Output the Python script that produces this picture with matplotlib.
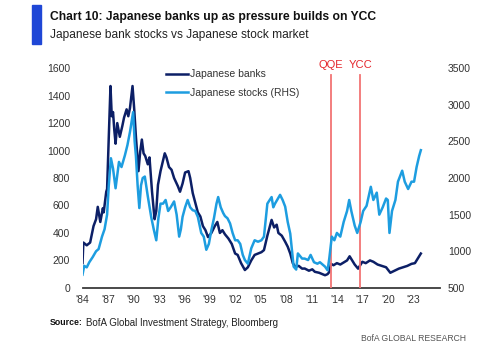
import matplotlib
matplotlib.use("Agg")
import matplotlib.pyplot as plt
from matplotlib import font_manager
from matplotlib.patches import Rectangle

# ---------- data ----------
bank_years = [1984.0, 1984.1, 1984.5, 1984.9, 1985.3, 1985.6, 1985.8, 1986.1, 1986.4, 1986.5,
              1986.8, 1986.9, 1987.1, 1987.3, 1987.45, 1987.6, 1987.75, 1987.9, 1988.1, 1988.4,
              1988.7, 1988.9, 1989.2, 1989.4, 1989.6, 1989.9, 1990.1, 1990.3, 1990.6, 1990.8,
              1991.0, 1991.2, 1991.4, 1991.7, 1991.9, 1992.2, 1992.5, 1992.7, 1992.9, 1993.2,
              1993.7, 1993.9, 1994.2, 1994.5, 1994.8, 1995.25, 1995.5, 1995.8, 1996.1, 1996.5,
              1996.7, 1997.0, 1997.3, 1997.6, 1997.9, 1998.2, 1998.5, 1998.8, 1999.2, 1999.6,
              1999.9, 2000.2, 2000.5, 2000.8, 2001.2, 2001.6, 2002.0, 2002.3, 2002.7, 2003.15,
              2003.5, 2003.9, 2004.3, 2004.7, 2005.1, 2005.4, 2005.8, 2006.3, 2006.6, 2006.9,
              2007.1, 2007.5, 2007.9, 2008.2, 2008.5, 2008.8, 2009.1, 2009.5, 2009.9, 2010.2,
              2010.7, 2011.1, 2011.4, 2011.9, 2012.6, 2012.9,
              2013.1, 2013.3, 2013.6, 2014.0, 2014.4, 2014.8, 2015.2, 2015.5, 2015.8, 2016.1,
              2016.5, 2017.0, 2017.4, 2017.9, 2018.3, 2018.8, 2019.3, 2019.8, 2020.3, 2020.8,
              2021.3, 2021.8, 2022.3, 2022.8, 2023.2, 2023.5, 2023.9]
bank_vals = [180, 330, 310, 330, 450, 500, 590, 480, 580, 550,
             700, 720, 1100, 1470, 1250, 1280, 1150, 1050, 1200, 1100,
             1180, 1240, 1300, 1250, 1310, 1470, 1300, 1100, 850, 990,
             1080, 980, 960, 900, 950, 700, 500, 560, 750, 850,
             980, 950, 880, 860, 800, 740, 700, 760, 840, 850,
             800, 690, 620, 550, 520, 450, 420, 370, 400, 450,
             480, 400, 420, 390, 360, 320, 250, 240, 180, 130,
             150, 200, 240, 250, 260, 275, 380, 495, 440, 460,
             400, 380, 336, 300, 250, 180, 153, 160, 140, 141,
             125, 135, 117, 110, 92, 100,
             115, 175, 165, 180, 170, 185, 200, 230, 200, 170,
             140, 190, 180, 200, 190, 170, 160, 150, 110, 125,
             140, 150, 160, 175, 180, 210, 250]

stock_years = [1984.0, 1984.2, 1984.5, 1984.8, 1985.2, 1985.6, 1985.9, 1986.3, 1986.6, 1986.9,
               1987.1, 1987.35, 1987.6, 1987.9, 1988.3, 1988.6, 1989.0, 1989.3, 1989.6, 1989.97,
               1990.15, 1990.3, 1990.5, 1990.7, 1990.9, 1991.1, 1991.35, 1991.7, 1992.1, 1992.4,
               1992.7, 1992.95, 1993.2, 1993.5, 1993.8, 1994.1, 1994.4, 1994.8, 1995.1, 1995.4,
               1995.6, 1995.8, 1996.1, 1996.4, 1996.7, 1997.0, 1997.3, 1997.6, 1998.0, 1998.3,
               1998.6, 1998.9, 1999.2, 1999.5, 1999.8, 2000.0, 2000.3, 2000.6, 2000.8, 2001.1,
               2001.4, 2001.7, 2002.0, 2002.3, 2002.6, 2002.9, 2003.15, 2003.5, 2003.9, 2004.3,
               2004.7, 2005.1, 2005.4, 2005.8, 2006.3, 2006.5, 2006.7, 2007.3, 2007.6, 2007.9,
               2008.2, 2008.5, 2008.9, 2009.2, 2009.4, 2009.9, 2010.2, 2010.6, 2010.9, 2011.3,
               2011.7, 2012.0, 2012.6, 2012.9, 2013.1, 2013.4, 2013.7,
               2014.0, 2014.4, 2014.8, 2015.2, 2015.45, 2015.7, 2016.1, 2016.4, 2016.8, 2017.1,
               2017.5, 2018.0, 2018.3, 2018.7, 2019.0, 2019.4, 2019.8, 2020.0, 2020.2, 2020.5,
               2020.9, 2021.2, 2021.7, 2022.0, 2022.4, 2022.8, 2023.1, 2023.4, 2023.7, 2023.9]
stock_vals = [680, 800, 780, 850, 920, 1000, 1030, 1200, 1300, 1500,
              1900, 2270, 2130, 1860, 2220, 2150, 2310, 2450, 2630, 2900,
              2500, 2300, 1900, 1590, 1900, 2000, 2020, 1750, 1470, 1300,
              1150, 1450, 1650, 1650, 1700, 1550, 1600, 1680, 1500, 1200,
              1300, 1470, 1600, 1700, 1600, 1560, 1550, 1470, 1250, 1200,
              1020, 1100, 1290, 1450, 1650, 1740, 1600, 1520, 1480, 1450,
              1380, 1250, 1150, 1150, 1100, 950, 880, 830, 1040, 1150,
              1130, 1150, 1200, 1650, 1740, 1600, 1650, 1770, 1700, 1610,
              1400, 1240, 790, 750, 970, 900, 900, 880, 950, 850,
              830, 850, 790, 740, 900, 1200, 1150,
              1250, 1200, 1400, 1550, 1700, 1550, 1350, 1250, 1400, 1550,
              1620, 1880, 1700, 1800, 1500, 1600, 1720, 1700, 1250, 1550,
              1700, 1950, 2100, 1950, 1850, 1950, 1950, 2150, 2300, 2380]

events = ["QQE", "YCC"]
event_years = [2013.25, 2016.75]

xtick_years = list(range(1984, 2024, 3))
xtick_labels = ["'" + str(y)[2:] for y in xtick_years]
left_ticks = [0, 200, 400, 600, 800, 1000, 1200, 1400, 1600]
right_ticks = [500, 1000, 1500, 2000, 2500, 3000, 3500]

# ---------- style ----------
avail = {f.name for f in font_manager.fontManager.ttflist}
narrow = "Liberation Sans Narrow" if "Liberation Sans Narrow" in avail else "Liberation Sans"
plt.rcParams["font.family"] = [narrow, "DejaVu Sans"]

NAVY = "#0c1f66"
LIGHT = "#1d9de0"
RED_LINE = "#f27474"
RED_TXT = "#e4262c"
GREY = "#333333"

fig = plt.figure(figsize=(5.0, 3.46), dpi=100)
ax = fig.add_axes([0.165, 0.168, 0.714, 0.635])
ax2 = ax.twinx()

ax.plot(bank_years, bank_vals, color=NAVY, lw=1.8, label="Japanese banks", zorder=3)
ax2.plot(stock_years, stock_vals, color=LIGHT, lw=1.8, label="Japanese stocks (RHS)", zorder=2)

for name, yr in zip(events, event_years):
    ax.plot([yr, yr], [0, 1550], color=RED_LINE, lw=1.3, zorder=4)
    ax.text(yr, 1620, name, color=RED_TXT, ha="center", va="center", fontsize=8, clip_on=False)

ax.set_xlim(1984, 2026.1)
ax.set_ylim(0, 1600)
ax2.set_ylim(500, 3500)
ax.set_xticks(xtick_years)
ax.set_xticklabels(xtick_labels)
ax.set_yticks(left_ticks)
ax2.set_yticks(right_ticks)

for a in (ax, ax2):
    for s in ("top", "left", "right", "bottom"):
        a.spines[s].set_visible(False)
    a.tick_params(length=0, labelsize=7.5, labelcolor=GREY)
ax.spines["bottom"].set_visible(True)
ax.spines["bottom"].set_color("#3a3a3a")
ax.spines["bottom"].set_linewidth(1.3)
ax.tick_params(axis="y", pad=9)
ax.tick_params(axis="x", pad=5)
ax2.tick_params(axis="y", pad=6)
ax.patch.set_visible(False)

# legend
h1, l1 = ax.get_legend_handles_labels()
h2, l2 = ax2.get_legend_handles_labels()
leg = ax2.legend(h1 + h2, l1 + l2, loc="upper left", bbox_to_anchor=(0.208, 1.038),
                 frameon=False, fontsize=7.5, handlelength=2.1, handletextpad=0.2,
                 labelspacing=0.8)
for t in leg.get_texts():
    t.set_color(GREY)

# titles and footer
fig.patches.append(Rectangle((0.064, 0.873), 0.018, 0.113, transform=fig.transFigure,
                             color="#1f47d6", zorder=1))
fig.text(0.099, 0.950, "Chart 10: Japanese banks up as pressure builds on YCC",
         fontsize=8.7, fontweight="bold", color="#111111", va="center")
fig.text(0.099, 0.899, "Japanese bank stocks vs Japanese stock market",
         fontsize=8.6, color="#222222", va="center")
fig.text(0.099, 0.067, "Source:", fontsize=6.3, fontweight="bold", color="#111111", va="center")
fig.text(0.172, 0.067, "BofA Global Investment Strategy, Bloomberg", fontsize=7,
         color="#222222", va="center")
fig.text(0.932, 0.022, "BofA GLOBAL RESEARCH", fontsize=6.2, color="#555555",
         ha="right", va="center")

fig.savefig("out.png", dpi=100)
